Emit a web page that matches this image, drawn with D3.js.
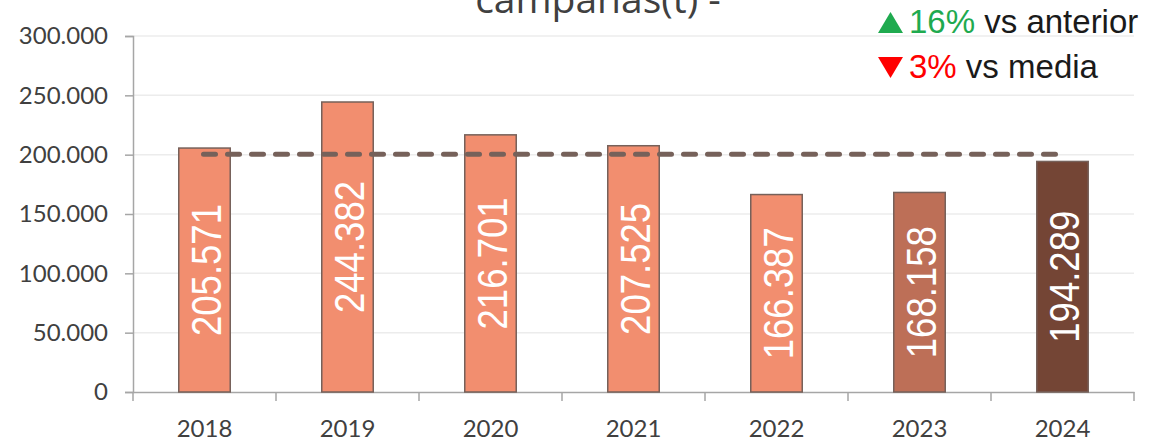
<!DOCTYPE html>
<html>
<head>
<meta charset="utf-8">
<script src="https://cdn.jsdelivr.net/npm/d3@7"></script>
<style>
  body { margin: 0; background: #fff; }
  svg { display: block; }
  .axis text { font-family: Lato, "Open Sans", sans-serif; font-size: 24px; fill: #404040; }
</style>
</head>
<body>
<div id="graf"></div>
<script>
// Datos
const years = ["2018", "2019", "2020", "2021", "2022", "2023", "2024"];
const values = [205571, 244382, 216701, 207525, 166387, 168158, 194289];
const barColors = ["#f28e6f", "#f28e6f", "#f28e6f", "#f28e6f", "#f28e6f", "#bd6f57", "#744535"];
const yTicks = [0, 50000, 100000, 150000, 200000, 250000, 300000];
const title = "campañas(t) -";
const notes = [
  { dir: "up", pct: "16%", text: " vs anterior", color: "#1faa4f" },
  { dir: "down", pct: "3%", text: " vs media", color: "#ff0000" }
];

const anchoTotal = 1157, altoTotal = 441;
const margins = { top: 36, right: 23, bottom: 49, left: 133 };
const ancho = anchoTotal - margins.left - margins.right;
const alto = altoTotal - margins.top - margins.bottom;

const svg = d3.select("#graf").append("svg")
  .attr("width", anchoTotal).attr("height", altoTotal);
const g = svg.append("g").attr("transform", `translate(${margins.left}, ${margins.top})`);

// Escaladores
const x = d3.scaleBand().domain(years).range([0, ancho]).paddingInner(0.64).paddingOuter(0.32);
const xBand = d3.scaleBand().domain(years).range([0, ancho]);
const y = d3.scaleLinear().domain([0, 300000]).range([alto, 0]);
const fmt = v => d3.format(",")(v).replace(/,/g, ".");

// Rejilla
g.append("g").selectAll("line").data(yTicks.slice(1)).join("line")
  .attr("x1", 0).attr("x2", ancho)
  .attr("y1", d => y(d)).attr("y2", d => y(d))
  .attr("stroke", "#ececec").attr("stroke-width", 1.5);

// Ejes
const yAxis = g.append("g").attr("class", "axis")
  .call(d3.axisLeft(y).tickValues(yTicks).tickSize(8).tickPadding(17).tickFormat(fmt));
const xAxis = g.append("g").attr("class", "axis").attr("transform", `translate(0, ${alto})`)
  .call(d3.axisBottom(xBand).tickSize(0).tickPadding(28));
xAxis.append("g").selectAll("line").data(d3.range(years.length + 1)).join("line")
  .attr("x1", i => i * xBand.step()).attr("x2", i => i * xBand.step())
  .attr("y1", 0).attr("y2", 9).attr("stroke", "#a6a6a6").attr("stroke-width", 1.5);
[yAxis, xAxis].forEach(a => {
  a.selectAll(".domain, .tick line").attr("stroke", "#a6a6a6").attr("stroke-width", 1.5);
});

// Barras
g.selectAll("rect.bar").data(values).join("rect")
  .attr("class", "bar")
  .attr("x", (d, i) => x(years[i]))
  .attr("y", d => y(d))
  .attr("width", x.bandwidth())
  .attr("height", d => alto - y(d))
  .attr("fill", (d, i) => barColors[i])
  .attr("stroke", "#76615a").attr("stroke-width", 1.5);

// Etiquetas (centradas en la barra, algo estrechas)
g.selectAll("text.lbl").data(values).join("text")
  .attr("class", "lbl")
  .attr("transform", (d, i) => `translate(${x(years[i]) + x.bandwidth() / 2 + 16}, ${(alto + y(d)) / 2}) rotate(-90) scale(0.85, 1)`)
  .attr("text-anchor", "middle")
  .attr("font-family", "'Liberation Sans', Arial, sans-serif")
  .attr("font-size", 43)
  .attr("fill", "#fff")
  .text(d => fmt(d));

// Media
const media = d3.mean(values);
g.append("line")
  .attr("x1", xBand(years[0]) + xBand.bandwidth() / 2 - 1)
  .attr("x2", xBand(years[years.length - 1]) + xBand.bandwidth() / 2 - 4)
  .attr("y1", y(media)).attr("y2", y(media))
  .attr("stroke", "#76615a").attr("stroke-width", 5)
  .attr("stroke-linecap", "round")
  .attr("stroke-dasharray", "12 12");

// Titulo
svg.append("text")
  .attr("x", 598).attr("y", 13)
  .attr("text-anchor", "middle")
  .attr("font-family", "'Open Sans', sans-serif")
  .attr("font-size", 39).attr("fill", "#404040")
  .text(title);

// Notas
const notas = svg.append("g");
notes.forEach((n, i) => {
  const base = 33 + i * 45;
  const tri = n.dir === "up"
    ? [[878, base], [903, base], [890.5, base - 21]]
    : [[878, base - 21], [903, base - 21], [890.5, base]];
  notas.append("path").attr("d", d3.line()(tri) + "Z").attr("fill", n.color);
  const t = notas.append("text")
    .attr("x", 909).attr("y", base)
    .attr("font-family", "'Liberation Sans', Arial, sans-serif")
    .attr("font-size", 33);
  t.append("tspan").attr("fill", n.color).text(n.pct);
  t.append("tspan").attr("fill", "#1a1a1a").text(n.text);
});
</script>
</body>
</html>
